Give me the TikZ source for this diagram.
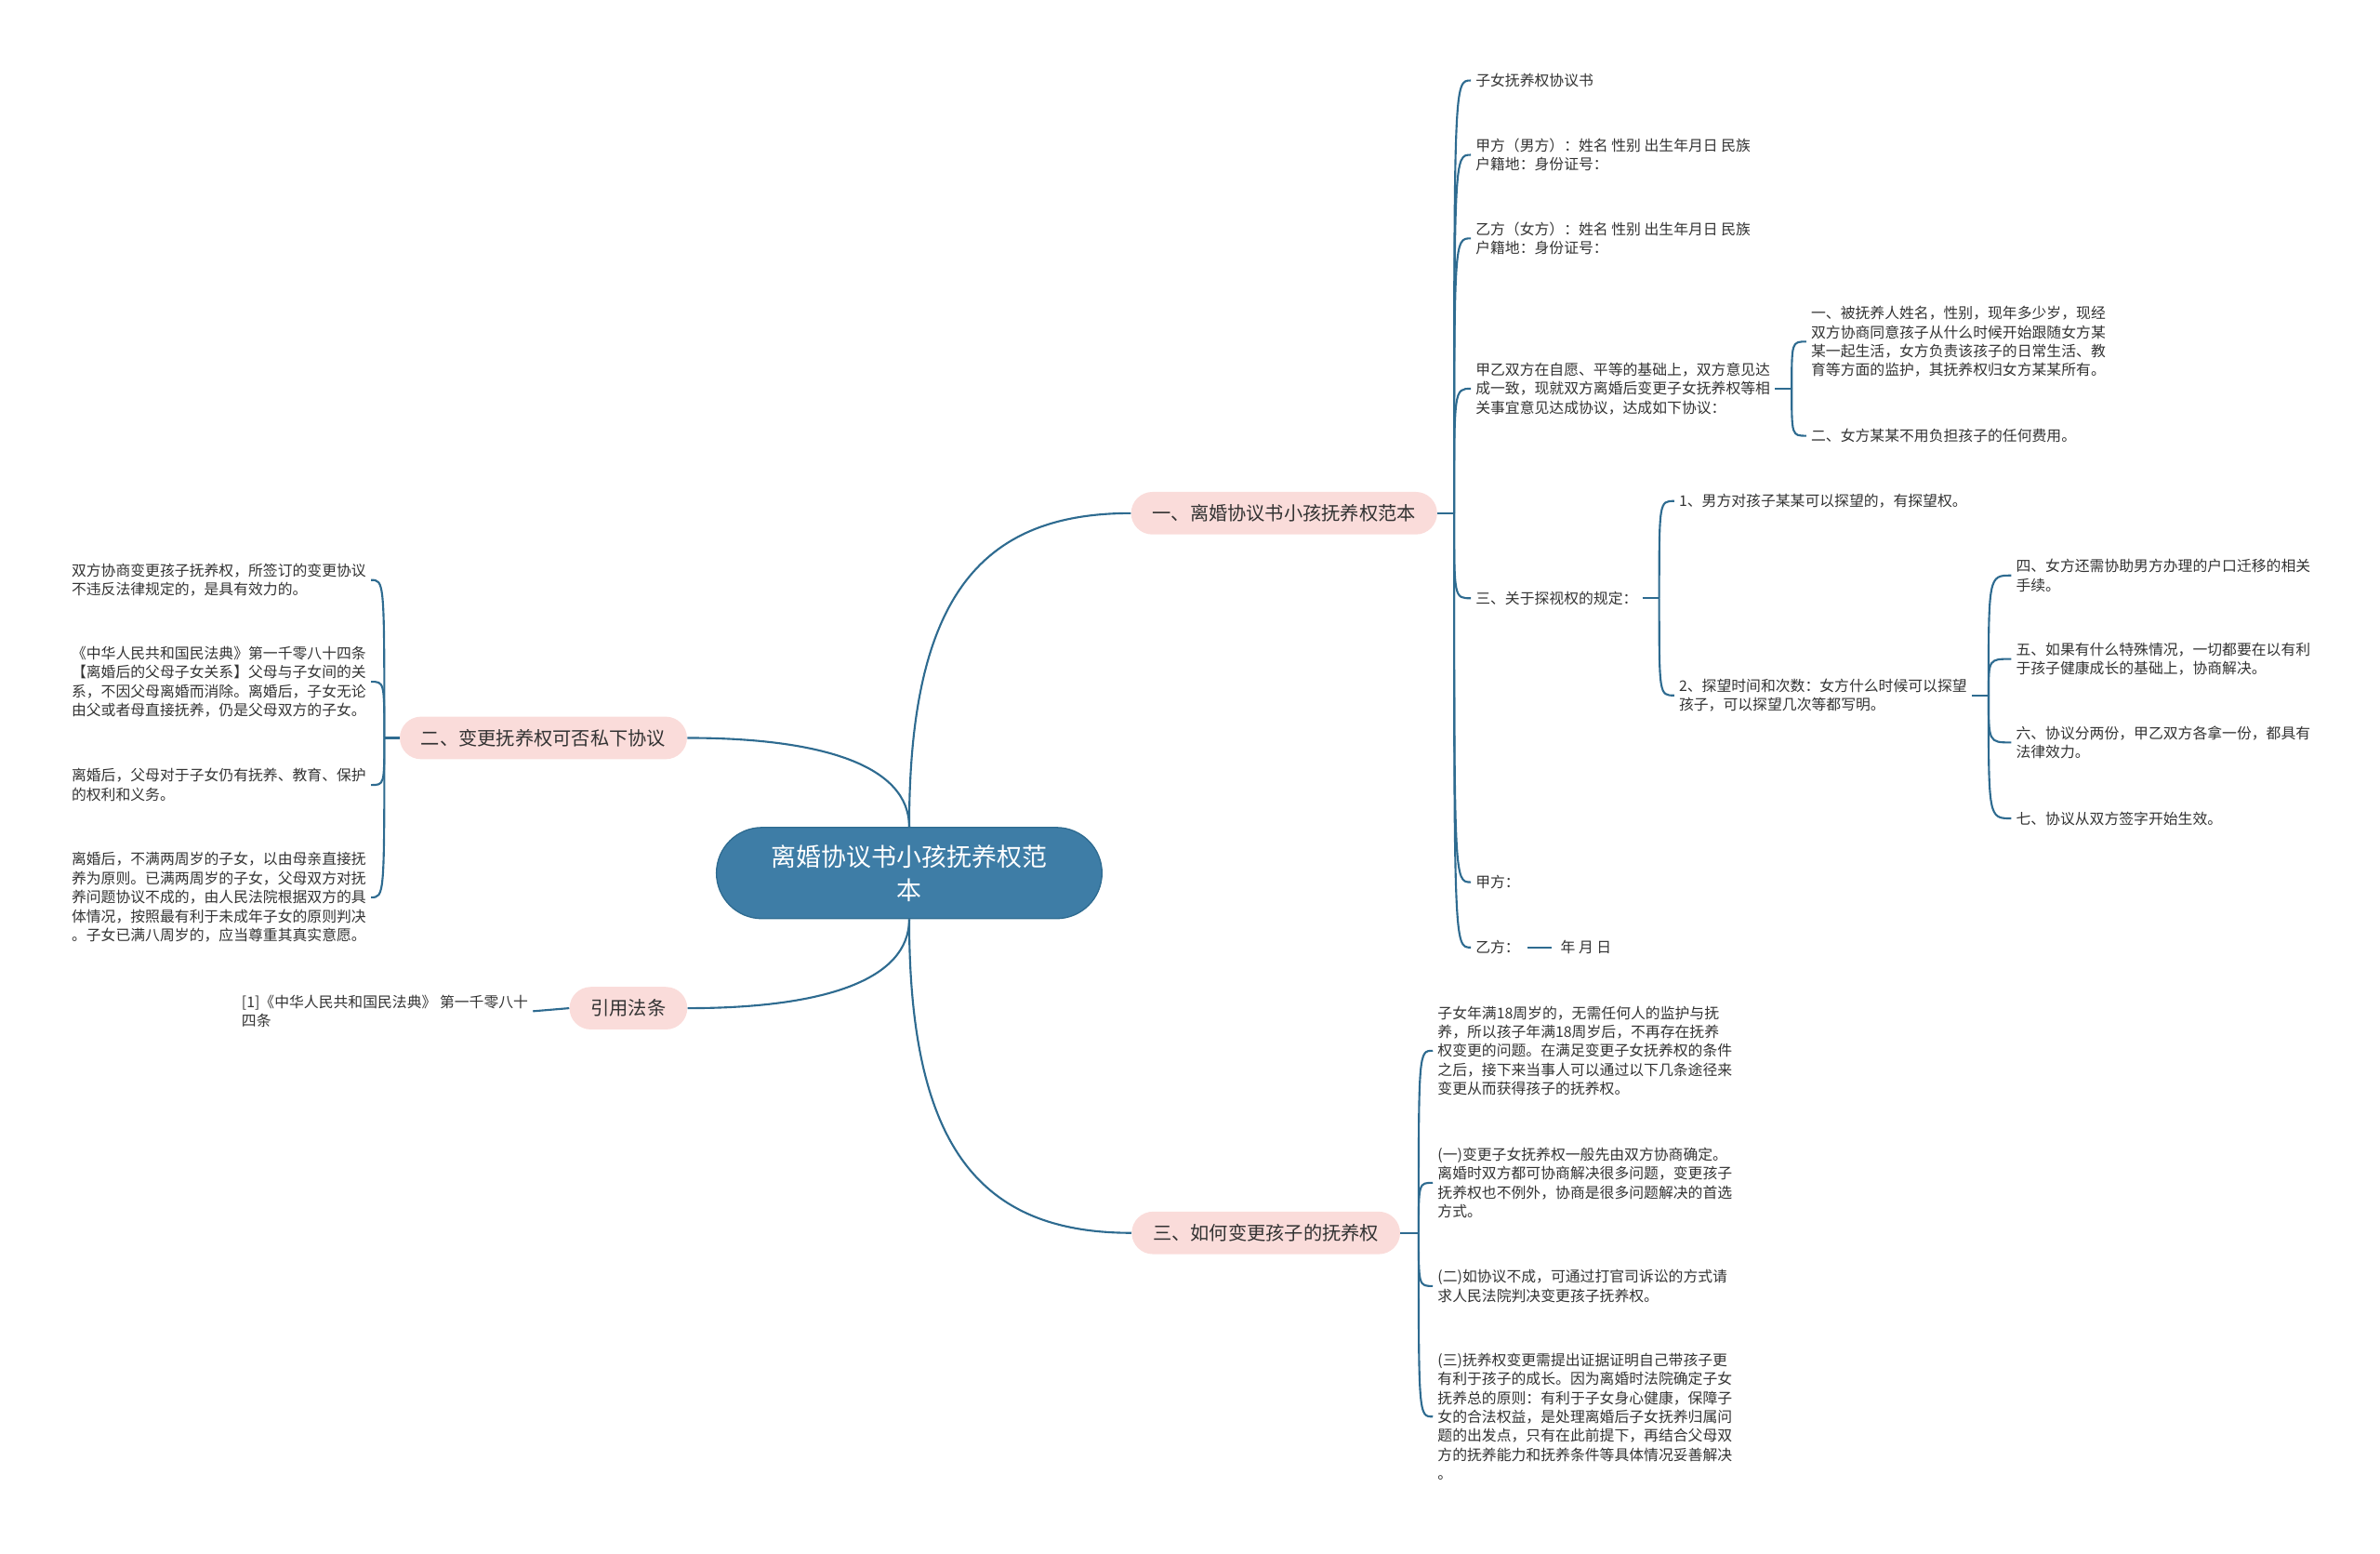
\documentclass[tikz,border=0pt]{standalone}
\usepackage{fontspec}
\setmainfont{Noto Sans CJK SC}
\usetikzlibrary{calc}
\definecolor{conncol}{HTML}{2E6B90}
\definecolor{rootcol}{HTML}{3E7DA6}
\definecolor{pinkcol}{HTML}{FADCDA}
\definecolor{txtcol}{HTML}{333333}
\tikzset{
  link/.style={draw=conncol, line width=1.3pt},
  leaf/.style={font=\fontsize{9.7}{12.5}\selectfont, text=txtcol, align=left, inner xsep=3pt, inner ysep=1pt},
  branchbox/.style={fill=pinkcol, rounded corners=14pt, minimum height=28pt, inner xsep=14pt, inner ysep=0pt, font=\fontsize{12.4}{15}\selectfont, text=txtcol},
  rootbox/.style={fill=rootcol, draw=conncol, line width=0.8pt, rounded corners=30pt, minimum width=254pt, minimum height=60pt, text=white, align=center, font=\fontsize{16.5}{22}\selectfont},
}
\begin{document}
\begin{tikzpicture}[x=1pt,y=-1pt]
\useasboundingbox (0,0) rectangle (1568,1023);

% root and branches
\node[rootbox] (root) at (599,575) {离婚协议书小孩抚养权范\\本};
\node[branchbox] (b1) at (846,338) {一、离婚协议书小孩抚养权范本};
\node[branchbox] (b2) at (358,486) {二、变更抚养权可否私下协议};
\node[branchbox] (b3) at (834,812) {三、如何变更孩子的抚养权};
\node[branchbox] (b4) at (414,664) {引用法条};

\draw[link] (root.north) .. controls +(0,-150) and +(-100,0) .. (b1.west);
\draw[link] (root.north) .. controls +(0,-40) and +(90,0) .. (b2.east);
\draw[link] (root.south) .. controls +(0,40) and +(90,0) .. (b4.east);
\draw[link] (root.south) .. controls +(0,150) and +(-100,0) .. (b3.west);

% branch 1 children
\node[leaf, anchor=west] (c1) at (969,53) {子女抚养权协议书};
\node[leaf, anchor=west] (c2) at (969,102) {甲方（男方）：姓名 性别 出生年月日 民族\\户籍地：身份证号：};
\node[leaf, anchor=west] (c3) at (969,157) {乙方（女方）：姓名 性别 出生年月日 民族\\户籍地：身份证号：};
\node[leaf, anchor=west] (c4) at (969,256) {甲乙双方在自愿、平等的基础上，双方意见达\\成一致，现就双方离婚后变更子女抚养权等相\\关事宜意见达成协议，达成如下协议：};
\node[leaf, anchor=west] (c5) at (969,394) {三、关于探视权的规定：};
\node[leaf, anchor=west] (c6) at (969,581) {甲方：};
\node[leaf, anchor=west] (c7) at (969,624) {乙方：};
\node[leaf, anchor=west] (c7a) at (1025,624) {年 月 日};

\coordinate (j1) at ($(b1.east)+(11,0)$);
\draw[link] (b1.east) -- (j1);
\foreach \c in {c1,c2,c3,c4,c5,c6,c7}
  \draw[link] (j1) .. controls (j1 |- \c.west) and (j1 |- \c.west) .. (\c.west);
\draw[link, shorten <=2pt, shorten >=3pt] (c7.east) -- (c7a.west);

% c4 children
\node[leaf, anchor=west] (c41) at (1190,225) {一、被抚养人姓名，性别，现年多少岁，现经\\双方协商同意孩子从什么时候开始跟随女方某\\某一起生活，女方负责该孩子的日常生活、教\\育等方面的监护，其抚养权归女方某某所有。};
\node[leaf, anchor=west] (c42) at (1190,287) {二、女方某某不用负担孩子的任何费用。};
\coordinate (j4) at ($(c4.east)+(11,0)$);
\draw[link] (c4.east) -- (j4);
\foreach \c in {c41,c42}
  \draw[link] (j4) .. controls (j4 |- \c.west) and (j4 |- \c.west) .. (\c.west);

% c5 children
\node[leaf, anchor=west] (c51) at (1103,330) {1、男方对孩子某某可以探望的，有探望权。};
\node[leaf, anchor=west] (c52) at (1103,458) {2、探望时间和次数：女方什么时候可以探望\\孩子，可以探望几次等都写明。};
\coordinate (j5) at ($(c5.east)+(11,0)$);
\draw[link] (c5.east) -- (j5);
\foreach \c in {c51,c52}
  \draw[link] (j5) .. controls (j5 |- \c.west) and (j5 |- \c.west) .. (\c.west);

% c52 children
\node[leaf, anchor=west] (c521) at (1325,379) {四、女方还需协助男方办理的户口迁移的相关\\手续。};
\node[leaf, anchor=west] (c522) at (1325,434) {五、如果有什么特殊情况，一切都要在以有利\\于孩子健康成长的基础上，协商解决。};
\node[leaf, anchor=west] (c523) at (1325,489) {六、协议分两份，甲乙双方各拿一份，都具有\\法律效力。};
\node[leaf, anchor=west] (c524) at (1325,539) {七、协议从双方签字开始生效。};
\coordinate (j52) at ($(c52.east)+(11,0)$);
\draw[link] (c52.east) -- (j52);
\foreach \c in {c521,c522,c523,c524}
  \draw[link] (j52) .. controls (j52 |- \c.west) and (j52 |- \c.west) .. (\c.west);

% branch 3 children
\node[leaf, anchor=west] (d1) at (944,692) {子女年满18周岁的，无需任何人的监护与抚\\养，所以孩子年满18周岁后，不再存在抚养\\权变更的问题。在满足变更子女抚养权的条件\\之后，接下来当事人可以通过以下几条途径来\\变更从而获得孩子的抚养权。};
\node[leaf, anchor=west] (d2) at (944,779) {(一)变更子女抚养权一般先由双方协商确定。\\离婚时双方都可协商解决很多问题，变更孩子\\抚养权也不例外，协商是很多问题解决的首选\\方式。};
\node[leaf, anchor=west] (d3) at (944,847) {(二)如协议不成，可通过打官司诉讼的方式请\\求人民法院判决变更孩子抚养权。};
\node[leaf, anchor=west] (d4) at (944,933) {(三)抚养权变更需提出证据证明自己带孩子更\\有利于孩子的成长。因为离婚时法院确定子女\\抚养总的原则：有利于子女身心健康，保障子\\女的合法权益，是处理离婚后子女抚养归属问\\题的出发点，只有在此前提下，再结合父母双\\方的抚养能力和抚养条件等具体情况妥善解决\\。};
\coordinate (j3) at ($(b3.east)+(12,0)$);
\draw[link] (b3.east) -- (j3);
\foreach \c in {d1,d2,d3,d4}
  \draw[link] (j3) .. controls (j3 |- \c.west) and (j3 |- \c.west) .. (\c.west);

% branch 2 children
\node[leaf, anchor=west] (e1) at (44,382) {双方协商变更孩子抚养权，所签订的变更协议\\不违反法律规定的，是具有效力的。};
\node[leaf, anchor=west] (e2) at (44,449) {《中华人民共和国民法典》第一千零八十四条\\【离婚后的父母子女关系】父母与子女间的关\\系，不因父母离婚而消除。离婚后，子女无论\\由父或者母直接抚养，仍是父母双方的子女。};
\node[leaf, anchor=west] (e3) at (44,517) {离婚后，父母对于子女仍有抚养、教育、保护\\的权利和义务。};
\node[leaf, anchor=west] (e4) at (44,591) {离婚后，不满两周岁的子女，以由母亲直接抚\\养为原则。已满两周岁的子女，父母双方对抚\\养问题协议不成的，由人民法院根据双方的具\\体情况，按照最有利于未成年子女的原则判决\\。子女已满八周岁的，应当尊重其真实意愿。};
\coordinate (j2) at ($(b2.west)+(-10,0)$);
\draw[link] (b2.west) -- (j2);
\foreach \c in {e1,e2,e3,e4}
  \draw[link] (j2) .. controls (j2 |- \c.east) and (j2 |- \c.east) .. (\c.east);

% branch 4 child
\node[leaf, anchor=west] (f1) at (156,666) {[1]《中华人民共和国民法典》 第一千零八十\\四条};
\draw[link] (b4.west) -- (f1.east);
\end{tikzpicture}
\end{document}
